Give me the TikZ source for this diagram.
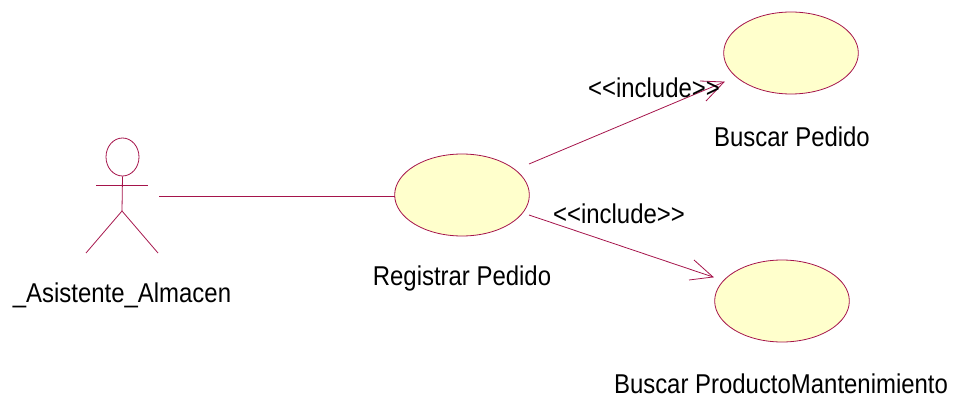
\documentclass[tikz,border=0pt]{standalone}
\usepackage{fontspec}
\setmainfont{Liberation Sans}
\usetikzlibrary{shapes.geometric,arrows.meta}
\definecolor{umlline}{RGB}{165,20,75}
\definecolor{umlfill}{RGB}{255,255,204}
\tikzset{
  px/.style={x=0.75pt,y=-0.75pt},
  usecase/.style={ellipse,draw=umlline,fill=umlfill,line width=0.6pt,minimum width=101pt,minimum height=61.5pt,inner sep=0pt},
  lbl/.style={text=black,font=\fontsize{20.4}{24}\selectfont,inner sep=0pt,anchor=center,xscale=0.88},
  conn/.style={draw=umlline,line width=0.6pt},
  actorline/.style={draw=umlline,line width=0.6pt}
}
\newcommand{\incl}{<{}<include>{}>}
\begin{document}
\begin{tikzpicture}[px]
\useasboundingbox (0,0) rectangle (956,399);
\node[usecase] (bp) at (791,53) {};
\node[usecase] (rp) at (462,195) {};
\node[usecase] (bm) at (782,301) {};
\node[ellipse,draw=umlline,line width=0.6pt,minimum width=24.75pt,minimum height=28.5pt,inner sep=0pt] (head) at (122.5,157) {};
\coordinate (hip) at (122,211);
\coordinate (armL) at (96,185);
\coordinate (armR) at (148,185);
\coordinate (legL) at (86,253);
\coordinate (legR) at (158,253);
\draw[actorline] (head.south) -- (hip);
\draw[actorline] (armL) -- (armR);
\draw[actorline] (legL) -- (hip) -- (legR);
\coordinate (actorend) at (159,196);
\coordinate (rpw) at (395,196);
\draw[conn] (actorend) -- (rpw);
\coordinate (s1) at (529,164);
\coordinate (e1) at (724,82);
\coordinate (a1) at (700,81);
\coordinate (b1) at (706,101);
\coordinate (s2) at (529,215);
\coordinate (e2) at (713,277);
\coordinate (a2) at (689,280);
\coordinate (b2) at (694,260);
\draw[conn] (s1) -- (e1);
\draw[conn] (a1) -- (e1) -- (b1);
\draw[conn] (s2) -- (e2);
\draw[conn] (a2) -- (e2) -- (b2);
\node[lbl] (lbp) at (792,137) {Buscar Pedido};
\node[lbl] (lrp) at (462,278) {Registrar Pedido};
\node[lbl] (lbm) at (781,384) {Buscar ProductoMantenimiento};
\node[lbl] (lact) at (122,295) {\_Asistente\_Almacen};
\node[lbl] (inc1) at (654,88) {\incl};
\node[lbl] (inc2) at (619,214) {\incl};
\end{tikzpicture}
\end{document}
